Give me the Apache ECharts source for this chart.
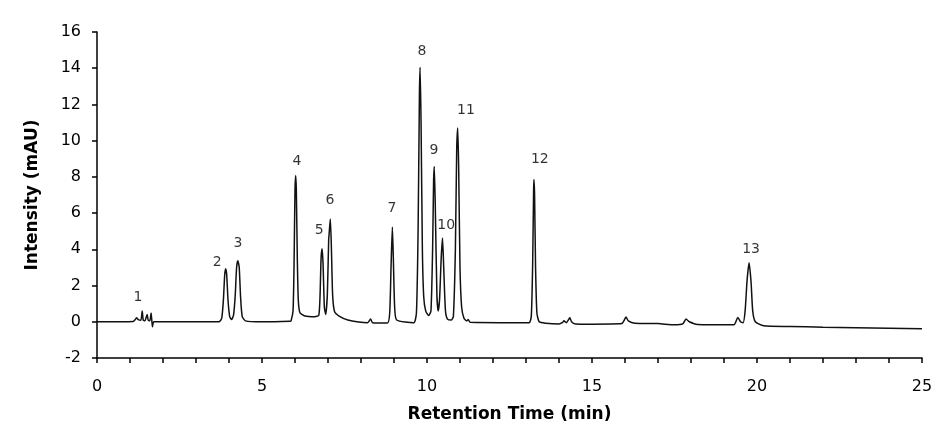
<!DOCTYPE html>
<html>
<head>
<meta charset="utf-8">
<script src="https://cdn.jsdelivr.net/npm/echarts@6/dist/echarts.min.js"></script>
<style>
    html, body { margin: 0; padding: 0; background: #fff; }
    #chart { width: 950px; height: 443px; }
</style>
</head>
<body>
<div id="chart"></div>
<script>
// 色谱图数据 (保留时间 min / 强度 mAU)
const retentionTimes = [
    0, 1.1, 1.15, 1.2, 1.25, 1.33, 1.37, 1.4, 1.45, 1.52, 1.55, 1.6, 1.64, 1.68, 1.72, 2.0,
    3.7, 3.78, 3.83, 3.87, 3.9, 3.93, 3.97, 4.02, 4.08, 4.14, 4.19, 4.23, 4.27, 4.31, 4.35, 4.4, 4.5, 5.0, 5.85,
    5.88, 5.94, 5.97, 6.0, 6.02, 6.04, 6.07, 6.1, 6.15, 6.3, 6.6,
    6.72, 6.76, 6.79, 6.82, 6.85, 6.89, 6.93, 6.98, 7.02, 7.04, 7.07, 7.1, 7.14, 7.2, 7.35, 7.6,
    8.2, 8.29, 8.35, 8.8, 8.87, 8.91, 8.95, 8.98, 9.02, 9.08, 9.6,
    9.68, 9.73, 9.77, 9.79, 9.82, 9.86, 9.9, 9.96, 10.05,
    10.12, 10.17, 10.2, 10.22, 10.25, 10.3, 10.34, 10.38, 10.43, 10.47, 10.51, 10.56, 10.62, 10.74,
    10.8, 10.86, 10.9, 10.93, 10.96, 11.0, 11.05, 11.12, 11.2, 11.25, 11.3, 11.5, 12.9, 13.1,
    13.16, 13.2, 13.23, 13.24, 13.26, 13.29, 13.33, 13.4, 13.6, 14.0,
    14.1, 14.15, 14.22, 14.3, 14.33, 14.38, 14.5, 15.0, 15.9, 15.98, 16.03, 16.1, 16.3, 17.0,
    17.5, 17.75, 17.85, 17.95, 18.2, 19.3, 19.42, 19.5, 19.58,
    19.64, 19.7, 19.76, 19.82, 19.87, 19.95, 20.2, 21, 22, 23, 24, 25
];
const intensities = [
    0, 0.02, 0.1, 0.22, 0.12, 0.08, 0.6, 0.1, 0.05, 0.4, 0.1, 0.05, 0.48, -0.28, 0, 0,
    0, 0.2, 1.2, 2.6, 2.93, 2.6, 1.2, 0.3, 0.12, 0.4, 1.5, 3.0, 3.37, 3.0, 1.4, 0.3, 0.05, 0, 0.03,
    0.05, 0.6, 3.0, 7.3, 8.08, 7.3, 3.5, 1.2, 0.5, 0.32, 0.28,
    0.35, 1.5, 3.5, 4.03, 3.2, 0.8, 0.4, 1.5, 4.5, 5.0, 5.67, 4.3, 1.5, 0.55, 0.3, 0.1,
    -0.05, 0.15, -0.05, -0.07, 0.5, 3.0, 5.23, 3.5, 0.8, 0.1, -0.05,
    0.5, 5.0, 12.5, 14.05, 11.0, 4.0, 1.4, 0.6, 0.35,
    0.6, 4.0, 7.8, 8.58, 6.5, 1.5, 0.6, 1.2, 3.5, 4.62, 2.8, 0.6, 0.15, 0.1,
    0.3, 4.0, 9.5, 10.7, 8.5, 3.0, 0.8, 0.2, 0.05, 0.12, -0.02, -0.04, -0.05, -0.05,
    0.3, 3.0, 7.2, 7.85, 7.0, 3.0, 0.5, 0, -0.08, -0.12,
    -0.05, 0.05, -0.05, 0.15, 0.22, 0, -0.12, -0.13, -0.1, 0.1, 0.26, 0.05, -0.08, -0.1,
    -0.17, -0.12, 0.15, 0, -0.15, -0.17, 0.24, 0, -0.05,
    0.6, 2.3, 3.26, 2.2, 0.6, 0, -0.22, -0.26, -0.3, -0.33, -0.36, -0.39
];

// 峰编号及标注位置
const peakNames = ['1', '2', '3', '4', '5', '6', '7', '8', '9', '10', '11', '12', '13'];
const peakLabelX = [1.24, 3.64, 4.27, 6.06, 6.73, 7.06, 8.94, 9.85, 10.21, 10.58, 11.18, 13.42, 19.82];
const peakLabelY = [1.33, 3.30, 4.31, 8.84, 5.03, 6.69, 6.24, 14.92, 9.45, 5.30, 11.66, 8.95, 3.98];

const chart = echarts.init(document.getElementById('chart'));

const fontFamily = '"DejaVu Sans", Verdana, sans-serif';

const option = {
    backgroundColor: '#fff',
    animation: false,
    grid: {
        left: 97,
        right: 28,
        top: 32,
        bottom: 85
    },
    xAxis: {
        type: 'value',
        min: 0,
        max: 25,
        interval: 1,
        name: 'Retention Time (min)',
        nameLocation: 'middle',
        nameGap: 48,
        nameTextStyle: { color: '#000', fontSize: 17, fontWeight: 'bold', fontFamily: fontFamily },
        axisLine: { onZero: false, lineStyle: { color: '#000', width: 1.5 } },
        axisTick: { length: 5, lineStyle: { color: '#000', width: 1.5 } },
        axisLabel: {
            color: '#000',
            fontSize: 16,
            fontFamily: fontFamily,
            margin: 21,
            formatter: v => (v % 5 === 0 ? String(v) : '')
        },
        splitLine: { show: false }
    },
    yAxis: {
        type: 'value',
        min: -2,
        max: 16,
        interval: 2,
        name: 'Intensity (mAU)',
        nameLocation: 'middle',
        nameGap: 56,
        nameTextStyle: { color: '#000', fontSize: 17, fontWeight: 'bold', fontFamily: fontFamily },
        axisLine: { show: true, lineStyle: { color: '#000', width: 1.5 } },
        axisTick: { show: true, length: 5, lineStyle: { color: '#000', width: 1.5 } },
        axisLabel: { color: '#000', fontSize: 16, fontFamily: fontFamily, margin: 16 },
        splitLine: { show: false }
    },
    series: [
        {
            type: 'line',
            data: retentionTimes.map((t, i) => [t, intensities[i]]),
            symbol: 'none',
            smooth: 0.2,
            lineStyle: { color: '#111', width: 1.5 },
            z: 2
        },
        {
            type: 'scatter',
            symbolSize: 0,
            data: peakNames.map((n, i) => ({ name: n, value: [peakLabelX[i], peakLabelY[i]] })),
            label: {
                show: true,
                position: 'inside',
                formatter: p => p.name,
                color: '#000',
                fontSize: 14,
                fontFamily: fontFamily
            },
            silent: true,
            z: 3
        }
    ]
};

chart.setOption(option);

window.addEventListener('resize', () => {
    chart && chart.resize();
});
</script>
</body>
</html>
